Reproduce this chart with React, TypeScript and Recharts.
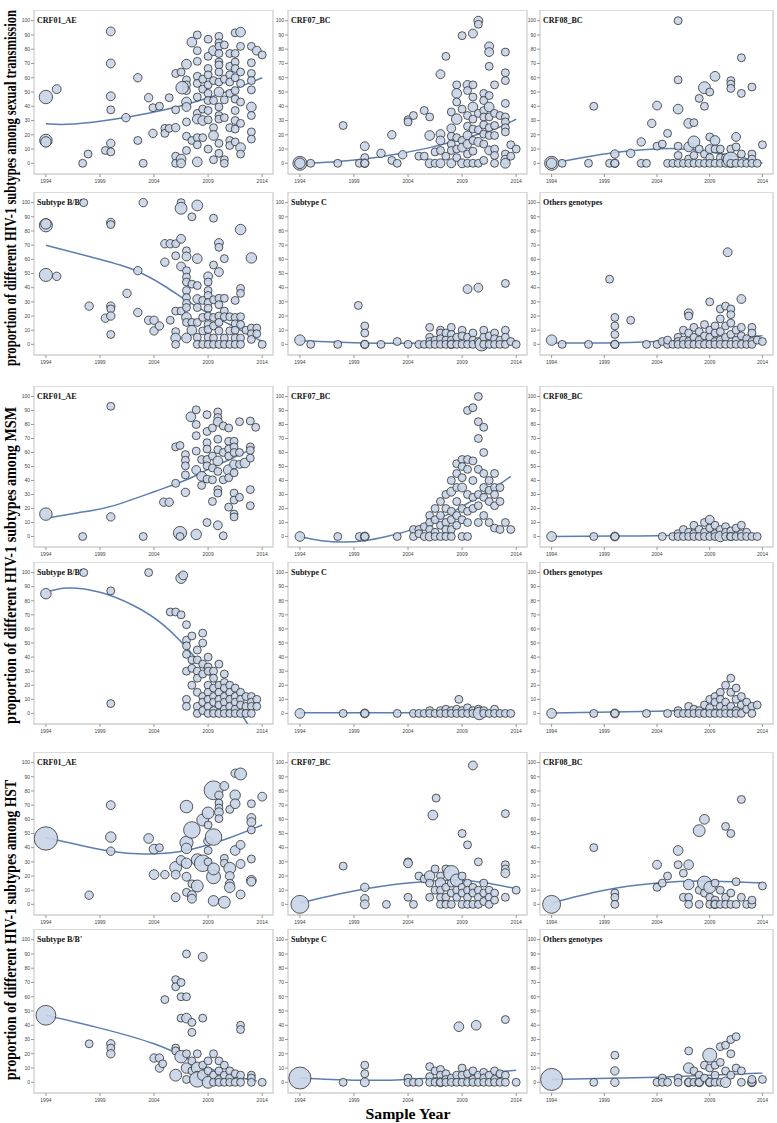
import React from 'react';
import { ComposedChart, Scatter, Line, XAxis, YAxis, ZAxis, ReferenceArea } from 'recharts';

const YEAR_TICKS = [1994, 1999, 2004, 2009, 2014];
const VALUE_TICKS = [0, 10, 20, 30, 40, 50, 60, 70, 80, 90, 100];
const X_DOMAIN: [number, number] = [1992.9, 2015];
const Y_DOMAIN: [number, number] = [-7.5, 107.5];

const GROUP_LABELS = [
  'proportion of different HIV-1 subtypes among sexual transmission',
  'proportion of different HIV-1 subtypes among MSM',
  'proportion of different HIV-1 subtypes among HST',
];
const X_TITLE = 'Sample Year';

type P = number[];

// ---- sexual transmission ----
const SEX_AE: P[] = [
  [1994,46.5,23],[1994,16,20],[1994,15,14],[1995,52,10],[1997.4,0,8],[1997.9,6.5,8],[1999.5,9,8],
  [2000,92.5,10],[2000,70,10],[2000,47,10],[2000,37.5,8],[2000,14,9],[2000,8,8],
  [2001.4,32,9],[2002.5,60,9],[2002.5,16,8],[2003,0,8],[2003.5,46,9],[2003.9,39,8],[2004.5,40,8],[2003.9,21,9],
  [2005,24.5,8],[2005,21,8],[2005.4,46,8],[2005.4,24.5,8],
  [2006,63,8],[2006,37.5,8],[2006,25,9],[2006,5,8],[2006,0,8],[2006.5,64,8],[2006.5,3,12],[2006.5,0,10],
  [2007,69.5,12],[2007,58.5,8],[2007,55,8],[2007,51,8],[2007,43,12],[2007,39.5,10],[2007,29,8],[2007,19,8],[2007,9,8],[2006.6,53,20],
  [2007.5,85,12],[2007.5,16,8],
  [2008,90,8],[2008,79,8],[2008,71.5,8],[2008,61,8],[2008,56,8],[2008,46.5,8],[2008,35,8],[2008,31,12],[2008,18,8],[2008,13,8],[2008,1,12],
  [2008.5,59,8],[2008.5,52,8],[2008.5,38,8],[2008.5,30,12],[2008.5,18,8],
  [2009,87,8],[2009,75,8],[2009,66.5,8],[2009,62,8],[2009,55,8],[2009,49,8],[2009,44,8],[2009,37,8],[2009,30.5,8],[2009,10,8],
  [2009.5,79,12],[2009.5,58,8],[2009.5,44,8],[2009.5,25,8],[2009.5,19.5,12],[2009.5,2.5,8],
  [2010,89,8],[2010,84.5,8],[2010,82,8],[2010,77,8],[2010,71,8],[2010,69,8],[2010,64,8],[2010,57,8],[2010,50,12],[2010,39.5,8],[2010,33.5,8],[2010,31,8],[2010,14,8],[2010,7,8],
  [2010.5,83,8],[2010.5,59,8],[2010.5,44.5,8],[2010.5,32,8],[2010.5,2.5,8],[2010.5,0,8],
  [2011,77,8],[2011,68,8],[2011,62,8],[2011,57,8],[2011,49,8],[2011,25,8],[2011,16,8],[2011,12.5,8],
  [2011.5,91.5,8],[2011.5,77,8],[2011.5,71,8],[2011.5,66.5,8],[2011.5,60,8],[2011.5,51,8],[2011.5,45,8],[2011.5,37,8],[2011.5,30,8],[2011.5,24,8],[2011.5,15,8],
  [2012,92,12],[2012,82,8],[2012,64,8],[2012,56,8],[2012,43,8],[2012,28,8],[2012,11,12],[2012,6.5,8],
  [2013,82,8],[2013,70.5,8],[2013,63,8],[2013,58,8],[2013,51.5,8],[2013,39.5,12],[2013,33.5,8],[2013,22,8],[2013,17,8],
  [2013.5,79,10],[2014,76,8],
];
const SEX_AE_FIT: P[] = [[1994,27.7],[1996,27.3],[1999,29.5],[2002,33],[2005,37.5],[2008,43.5],[2011,51],[2014,60]];

const SEX_07: P[] = [
  [1994,0,25],[1994,0,14],[1995,0,8],[1997.5,0,8],[1998,26.5,8],[1999.5,0,8],[2000,12,10],[2000,4,8],[2000,0,9],[2000,0,8],
  [2001.5,7,9],[2002.5,20,9],[2002.5,2,8],[2003,0,8],[2003.5,6,9],[2004,30.5,8],[2004,29,8],[2004.5,33.5,8],
  [2005,5,8],[2005.5,5,8],[2005.5,37,8],[2006,32.5,8],[2006,19.5,12],[2006,0,10],[2006.5,8,8],[2006.5,0,8],
  [2007,62.5,10],[2007,20.5,10],[2007,16,10],[2007,9,8],[2007,0,10],[2007.5,75,8],[2007.5,5,8],
  [2008,36,8],[2008,24.5,10],[2008,19,8],[2008,13.5,8],[2008,9,8],[2008,0,10],
  [2008.5,55,8],[2008.5,49,12],[2008.5,43,8],[2008.5,31,14],[2008.5,18,8],[2008.5,10,8],[2008.5,4,8],
  [2009,89.5,8],[2009,38,8],[2009,16,8],[2009,11,10],[2009,0,10],
  [2009.5,55,10],[2009.5,51,8],[2009.5,33.5,8],[2009.5,26,8],[2009.5,19.5,10],[2009.5,13.5,10],[2009.5,6.5,8],[2009.5,0,8],
  [2010,91,10],[2010,55,8],[2010,46.5,8],[2010,39.5,12],[2010,31,8],[2010,24,8],[2010,16,8],[2010,8.5,8],[2010,0,8],
  [2010.5,100,10],[2010.5,97.5,8],[2010.5,35,8],[2010.5,23.5,8],[2010.5,15,10],[2010.5,0,8],
  [2011,49,8],[2011,44,8],[2011,37,8],[2011,32.5,8],[2011,27,8],[2011,20.5,8],[2011,13.5,8],[2011,2,8],
  [2011.5,82,10],[2011.5,78,10],[2011.5,68,8],[2011.5,47.5,8],[2011.5,39.5,12],[2011.5,32.5,8],[2011.5,25,8],[2011.5,19.5,8],[2011.5,9,10],
  [2012,55,8],[2012,35,8],[2012,26.5,8],[2012,19.5,8],[2012,10,8],[2012,5.5,8],[2012,0,8],[2012.5,33.5,8],
  [2013,78,8],[2013,63.5,8],[2013,58,8],[2013,42,8],[2013,32.5,8],[2013,29,8],[2013,25,8],[2013,22,8],[2013,6.5,8],[2013,2.5,10],[2013,0,12],
  [2013.5,13,8],[2013.5,5,8],[2014,10,8],
];
const SEX_07_FIT: P[] = [[1994,0],[1997,1],[2000,3],[2003,6.5],[2006,11],[2009,17],[2012,24],[2014,31]];

const SEX_08: P[] = [
  [1994,0,25],[1994,0,14],[1995,0,8],[1997.5,0,8],[1998,40,8],[1999.5,0,8],[2000,6.5,9],[2000,0,9],[2000,0,8],
  [2001.5,7,9],[2002.5,15,9],[2002.5,0,8],[2003,0,8],[2003.5,28,9],[2004,40.5,10],[2004,12,8],[2004.5,13.5,8],
  [2005,21,8],[2005,0,8],[2005.5,0,8],[2006,100,8],[2006,58.5,8],[2006,38,12],[2006,12,8],[2006,5.5,8],[2006,0,8],[2006.5,0,8],
  [2007,28,12],[2007,11.5,12],[2007,3,8],[2007,0,8],[2007.5,28.5,8],[2007.5,15,18],[2007.5,5.5,8],[2007.5,0,8],
  [2008,45.5,8],[2008,10,8],[2008,0,8],[2008.5,53,18],[2008.5,40,8],[2008.5,6.5,8],[2008.5,0,8],
  [2009,50,8],[2009,18.5,8],[2009,10,10],[2009,4,8],[2009,0,8],[2009.5,61,12],[2009.5,16,12],[2009.5,10,8],[2009.5,0,8],
  [2010,10,8],[2010,4,8],[2010,0,8],[2010.5,0,8],[2010.5,4,8],
  [2011,58,8],[2011,55.5,8],[2011,52.5,8],[2011,10,8],[2011,2.5,30],[2011,0,8],
  [2011.5,18.5,10],[2011.5,11.5,8],[2011.5,0,8],[2012,74,8],[2012,49,8],[2012,6.5,8],[2012,0,8],[2012.5,0,8],
  [2013,53.5,8],[2013,6.5,8],[2013,3,8],[2013,0,8],[2013.5,0,8],[2014,13,8],
];
const SEX_08_FIT: P[] = [[1994,0],[1997,4],[2000,7.5],[2003,9.7],[2006,10.2],[2009,8],[2012,4],[2014,0]];

const SEX_B: P[] = [
  [1994,84,22],[1994,85,14],[1994,49,22],[1995,48,9],[1997.5,100,8],[1998,27,9],[1999.5,18.5,9],
  [2000,86,9],[2000,84.5,8],[2000,27,9],[2000,25,8],[2000,20,9],[2000,7,8],
  [2001.5,36,9],[2002.5,52,9],[2002.5,22.5,9],[2003,100,9],[2003.5,17,9],[2004,17,9],[2004,9.5,9],[2004.5,13,9],
  [2005,71,9],[2005,58,9],[2005.5,71,9],[2005.5,17,8],
  [2006,71,8],[2006,62.5,8],[2006,23.5,8],[2006,9,8],[2006,4.5,12],[2006,0,8],
  [2006.5,100,8],[2006.5,96,18],[2006.5,74.5,10],[2006.5,55,10],[2006.5,23.5,8],
  [2007,66,8],[2007,62,10],[2007,52,8],[2007,47.5,8],[2007,44,8],[2007,38,8],[2007,33,8],[2007,29,8],[2007,26,8],[2007,19,12],[2007,15.5,8],[2007,4.5,12],
  [2007.5,90,8],[2007.5,42.5,8],[2007.5,15.5,8],[2007.5,10,12],
  [2008,98,15],[2008,60.5,12],[2008,41.5,8],[2008,32,10],[2008,26,8],[2008,15.5,8],[2008,5,8],[2008,0,8],
  [2008.5,31,8],[2008.5,19,8],[2008.5,9.5,8],[2008.5,0,8],
  [2009,48,10],[2009,44,8],[2009,38,8],[2009,34.5,8],[2009,29.5,8],[2009,25.5,8],[2009,20,8],[2009,14,8],[2009,10.5,8],[2009,5,8],[2009,0,8],
  [2009.5,89,8],[2009.5,56,8],[2009.5,31.5,8],[2009.5,19,8],[2009.5,13,8],[2009.5,4.5,8],[2009.5,0,8],
  [2010,71.5,10],[2010,68.5,8],[2010,51,10],[2010,32.5,8],[2010,28,8],[2010,20,8],[2010,15.5,8],[2010,9.5,8],[2010,0,8],
  [2010.5,60.5,8],[2010.5,32.5,8],[2010.5,23.5,8],[2010.5,19.5,8],[2010.5,4.5,8],[2010.5,0,8],
  [2011,19.5,8],[2011,9.5,8],[2011,0,8],
  [2011.5,31,8],[2011.5,19,8],[2011.5,14.5,8],[2011.5,10,8],[2011.5,4.5,8],[2011.5,0,8],
  [2012,81,14],[2012,39.5,8],[2012,36,8],[2012,19.5,8],[2012,14,8],[2012,4.5,8],[2012,0,8],[2012.5,10,8],
  [2013,61,14],[2013,11.5,8],[2013,7.5,8],[2013,3.5,8],[2013.5,11.5,8],[2013.5,7.5,8],[2014,0,8],
];
const SEX_B_FIT: P[] = [[1994,70],[1998,62],[2002,53],[2005,41],[2007,31],[2009,22],[2011,14],[2014,2]];

const SEX_C: P[] = [
  [1994,3,14],[1995,0,8],[1997.5,0,8],[1999.4,27.5,8],[2000,13,8],[2000,8,8],[2000,0,9],[2000,0,8],
  [2001.5,0,8],[2003,2,8],[2004,0,8],[2005,0,8],[2005.5,0,8],
  [2006,12,8],[2006,5,8],[2006,2,8],[2006,0,8],[2006.5,3,8],[2006.5,0,8],
  [2007,10,8],[2007,8,8],[2007,4,8],[2007,0,8],[2007.5,8,8],[2007.5,3,8],[2007.5,0,8],
  [2008,12,8],[2008,7,8],[2008,3,8],[2008,0,9],[2008,0,8],[2008.5,5,8],[2008.5,0,8],
  [2009,10,8],[2009,6,8],[2009,0,8],[2009.5,39,10],[2009.5,5,8],[2009.5,0,8],
  [2010,8,8],[2010,3,8],[2010,0,8],[2010.5,40,10],[2010.5,2,8],[2010.8,0,22],
  [2011,10,8],[2011,5,8],[2011,0,8],[2011.5,6,8],[2011.5,0,8],
  [2012,8,8],[2012,4,8],[2012,0,8],[2012.5,3,8],[2012.5,0,8],
  [2013,43,8],[2013,10,8],[2013,5,8],[2013,0,8],[2013.5,2,8],[2014,0,8],
];
const SEX_C_FIT: P[] = [[1994,2.5],[1999,1.2],[2004,0.8],[2009,1.5],[2014,2.5]];

const SEX_O: P[] = [
  [1994,3,14],[1995,0,8],[1997.5,0,8],[1999.5,46,8],[2000,19,8],[2000,13,8],[2000,7,8],[2000,0,9],[2000,0,8],
  [2001.5,17,8],[2003,0,8],[2004,0,8],[2004.5,2,8],[2005,0,8],[2005,3,8],[2005.5,0,8],
  [2006,5,8],[2006,2,8],[2006,0,8],[2006.5,10,8],[2006.5,3,8],[2006.5,0,8],
  [2007,22,10],[2007,20,8],[2007,8,8],[2007,2,8],[2007,0,8],[2007.5,12,8],[2007.5,5,8],[2007.5,0,8],
  [2008,9,8],[2008,3,8],[2008,0,8],[2008.5,14,8],[2008.5,6,8],[2008.5,0,8],
  [2009,30,8],[2009,10,8],[2009,5,8],[2009,0,8],[2009.5,13,8],[2009.5,8,8],[2009.5,2,8],[2009.5,0,8],
  [2010,25,8],[2010,18,8],[2010,9,8],[2010,3,8],[2010,0,8],
  [2010.7,65,10],[2010.5,27,8],[2010.5,13,8],[2010.5,5,8],[2010.5,0,8],
  [2011,25,8],[2011,21,8],[2011,15,8],[2011,7,8],[2011,0,8],
  [2012,32,10],[2011.5,10,8],[2011.5,3,8],[2011.5,0,8],
  [2012,12,8],[2012,6,8],[2012,0,8],[2012.5,4,8],[2012.5,0,8],
  [2013,12,8],[2013,8,8],[2013,2,8],[2013,0,8],[2013.5,3,8],[2014,2,8],
];
const SEX_O_FIT: P[] = [[1994,1],[1999,1],[2004,2],[2009,3.8],[2014,6]];

// ---- MSM ----
const MSM_AE: P[] = [
  [1994,16,20],[1997.4,0,8],[2000,93,8],[2000,14,9],[2003,0,8],[2004.9,24.5,9],[2005.4,24.5,9],
  [2006,64,8],[2006,38,8],[2006.4,65,8],[2006.4,2.5,22],[2006.4,0,8],
  [2006.9,58.5,8],[2006.9,54.5,8],[2006.9,50.5,8],[2006.9,44,8],[2006.9,31.5,9],
  [2007.4,85.5,12],[2007.9,90.5,8],[2007.9,80,8],[2007.9,72,8],[2007.9,61,8],[2007.9,47.5,10],[2007.9,1.5,14],
  [2008.4,55,8],[2008.4,43,12],[2008.4,36.5,8],
  [2008.9,87,8],[2008.9,75,8],[2008.9,67,8],[2008.9,62.5,8],[2008.9,55,8],[2008.9,50.5,8],[2008.9,41,8],[2008.9,10,8],
  [2009.4,77.5,8],[2009.4,57.5,8],[2009.4,49,8],[2009.4,40.5,8],[2009.4,25,8],
  [2009.9,89,8],[2009.9,85,8],[2009.9,82,10],[2009.9,69.5,8],[2009.9,62,8],[2009.9,54,12],[2009.9,46.5,8],[2009.9,33.5,8],[2009.9,31,8],[2009.9,8,10],
  [2010.4,79,8],[2010.4,60,8],[2010.4,40.5,8],[2010.4,0.5,8],
  [2010.9,77.5,8],[2010.9,68,8],[2010.9,62.5,8],[2010.9,57.5,8],[2010.9,47.5,14],[2010.9,42,8],[2010.9,21,8],
  [2011.4,68,8],[2011.4,64,8],[2011.4,60,8],[2011.4,51.5,10],[2011.4,45.5,8],[2011.4,31,8],[2011.4,26,8],[2011.4,16,8],[2011.4,14,8],
  [2011.9,82,8],[2011.9,60,8],[2011.9,51.5,8],[2011.9,28,8],[2012.4,52.5,12],
  [2012.9,82.5,8],[2012.9,64,8],[2012.9,61.5,8],[2012.9,56,8],[2012.9,33.5,8],[2012.9,22,8],[2013.4,78,8],
];
const MSM_AE_FIT: P[] = [[1994,13],[1997,17],[2000,21.5],[2004,32],[2007,40.5],[2009,48],[2011,55],[2013.3,63.5]];

const MSM_07: P[] = [
  [1994,0,12],[1997.5,0,8],[1999.5,0,8],[2000,0,10],[2000,0,8],[2003,0,8],
  [2004.5,5,8],[2004.5,0,8],[2005,5,8],[2005,2,8],[2005.5,7,8],[2005.5,0,8],
  [2006,15,8],[2006,10,8],[2006,5,8],[2006,0,10],[2006.5,20,8],[2006.5,12,8],[2006.5,3,8],[2006.5,0,8],
  [2007,25,8],[2007,15,8],[2007,8,8],[2007,0,8],[2007.5,30,8],[2007.5,20,8],[2007.5,10,8],[2007.5,5,8],[2007.5,0,8],
  [2008,40,8],[2008,32,10],[2008,18,8],[2008,12,8],[2008,5,8],[2008,0,8],
  [2008.5,52,8],[2008.5,45,8],[2008.5,35,8],[2008.5,25,8],[2008.5,15,8],[2008.5,8,8],
  [2009,55,8],[2009,50,8],[2009,42,8],[2009,35,10],[2009,20,8],[2009,12,8],[2009,0,8],
  [2009.5,90,8],[2009.5,55,8],[2009.5,48,8],[2009.5,30,8],[2009.5,18,8],[2009.5,10,8],[2009.5,0,8],
  [2010,92,8],[2010,54,8],[2010,40,8],[2010,28,8],[2010,20,8],
  [2010.5,100,8],[2010.5,82,8],[2010.5,70,8],[2010.5,48,8],[2010.5,30,8],[2010.5,22,8],[2010.5,10,8],
  [2011,78,8],[2011,60,8],[2011,45,8],[2011,35,8],[2011,28,8],[2011,15,8],
  [2011.5,40,8],[2011.5,33,8],[2011.5,25,8],[2011.5,10,8],
  [2012,45,8],[2012,35,8],[2012,30,8],[2012,22,8],[2012,6,8],
  [2012.5,35,8],[2012.5,25,8],[2012.5,5,8],[2013,10,8],[2013.5,5,8],
];
const MSM_07_FIT: P[] = [[1994,0],[1996,-3],[1998,-4],[2000,-3],[2002,0],[2004,4],[2006,10],[2008,17],[2010,26],[2012,35],[2013.5,43]];

const MSM_08: P[] = [
  [1994,0,12],[1998,0,8],[2000,0,10],[2000,0,8],[2004.5,0,8],[2005.5,0,8],[2006,2,8],[2006,0,8],[2006.5,5,8],[2006.5,0,8],
  [2007,3,8],[2007,0,8],[2007.5,8,8],[2007.5,2,8],[2007.5,0,8],[2008,5,8],[2008,0,8],
  [2008.5,10,8],[2008.5,3,8],[2008.5,0,8],[2009,12,10],[2009,6,8],[2009,0,8],
  [2009.5,8,8],[2009.5,2,8],[2009.5,0,8],[2010,5,8],[2010,0,14],[2010.5,7,8],[2010.5,3,8],[2010.5,0,8],
  [2011,4,8],[2011,0,9],[2011,0,8],[2011.5,6,8],[2011.5,0,8],[2012,8,8],[2012,2,8],[2012,0,8],[2012.5,3,8],[2012.5,0,8],[2013,0,8],[2013.5,0,8],
];
const MSM_08_FIT: P[] = [[1994,0],[2000,0.3],[2004,0.6],[2009,1],[2013.5,0.5]];

const MSM_B: P[] = [
  [1994,85,14],[1997.5,100,8],[2000,87,8],[2000,7,8],[2003.5,100,8],[2005.5,72,8],[2006,72,8],
  [2006.5,96,14],[2006.7,98,10],[2006.5,70,8],
  [2007,63,8],[2007,52,8],[2007,48,8],[2007,42,8],[2007,30,8],[2007,10,8],[2007,5,8],
  [2007.5,55,8],[2007.5,38,8],[2007.5,32,8],[2007.5,20,8],
  [2008,45,8],[2008,38,8],[2008,30,8],[2008,25,8],[2008,15,8],[2008,5,8],[2008,0,8],
  [2008.5,57,8],[2008.5,50,8],[2008.5,35,8],[2008.5,28,8],[2008.5,12,8],[2008.5,8,8],[2008.5,2,8],
  [2009,40,8],[2009,33,8],[2009,30,8],[2009,20,8],[2009,15,8],[2009,10,8],[2009,5,8],[2009,0,8],
  [2009.5,30,8],[2009.5,25,8],[2009.5,18,8],[2009.5,12,8],[2009.5,8,8],[2009.5,2,8],[2009.5,0,8],
  [2010,35,8],[2010,20,8],[2010,15,8],[2010,10,8],[2010,6,8],[2010,0,8],
  [2010.5,28,8],[2010.5,22,8],[2010.5,18,8],[2010.5,12,8],[2010.5,8,8],[2010.5,3,8],[2010.5,0,8],
  [2011,20,8],[2011,15,8],[2011,10,8],[2011,5,8],[2011,0,8],
  [2011.5,18,8],[2011.5,12,8],[2011.5,8,8],[2011.5,3,8],[2011.5,0,8],
  [2012,15,8],[2012,10,8],[2012,6,8],[2012,0,8],[2012.5,12,8],[2012.5,5,8],[2012.5,0,8],
  [2013,12,8],[2013,8,8],[2013,5,8],[2013,0,8],[2013.5,10,8],[2013.5,5,8],
];
const MSM_B_FIT: P[] = [[1994,86],[1996,89],[1999,86],[2002,77],[2005,62],[2008,38],[2010,19],[2012,0],[2013,-12]];

const MSM_C: P[] = [
  [1994,0,12],[1998,0,8],[2000,0,10],[2000,0,8],[2003,0,8],[2004.5,0,8],[2005,0,8],[2005.5,0,8],
  [2006,2,8],[2006,0,8],[2006.5,0,8],[2007,2,8],[2007,0,8],[2007.5,3,8],[2007.5,0,8],[2008,2,8],[2008,0,8],
  [2008.7,10,8],[2008.5,3,8],[2008.5,0,8],[2009,2,8],[2009,0,8],[2009.5,4,8],[2009.5,0,8],[2010,2,8],[2010,0,8],
  [2010.5,3,8],[2010.6,0,20],[2011,2,8],[2011,0,8],[2011.5,0,8],[2012,3,8],[2012,0,8],[2012.5,0,8],[2013,0,8],[2013.5,0,8],
];
const MSM_C_FIT: P[] = [[1994,0.5],[2004,0.5],[2009,0.8],[2013.5,1]];

const MSM_O: P[] = [
  [1994,0,12],[1998,0,8],[2000,0,10],[2000,0,8],[2003,0,8],[2005,0,8],[2006,2,8],[2006,0,8],[2006.5,0,8],
  [2007,5,8],[2007,0,8],[2007.5,3,8],[2007.5,0,8],[2008,2,8],[2008,0,8],[2008.5,6,8],[2008.5,0,8],
  [2009,10,8],[2009,4,8],[2009,0,8],[2009.5,12,8],[2009.5,8,8],[2009.5,0,8],
  [2010,15,8],[2010,10,8],[2010,5,8],[2010,0,8],[2010.5,20,8],[2010.5,8,8],[2010.5,3,8],[2010.5,0,8],
  [2011,25,8],[2011,15,8],[2011,5,8],[2011,0,8],[2011.5,18,8],[2011.5,10,8],[2011.5,2,8],[2011.5,0,8],
  [2012,12,8],[2012,6,8],[2012,0,8],[2012.5,8,8],[2012.5,3,8],[2013,5,8],[2013,0,8],[2013.5,6,8],
];
const MSM_O_FIT: P[] = [[1994,0.3],[2004,1.5],[2009,3],[2013.5,5]];

// ---- HST ----
const HST_AE: P[] = [
  [1994,46.5,70],[1998,6.5,9],[2000,70,10],[2000,47.5,14],[2000,37.5,9],
  [2003.5,46.5,12],[2004,39,12],[2004.5,40,8],[2004,21,12],[2005,21,9],
  [2006,26,18],[2006,21,10],[2006,5,10],[2006.5,31,12],
  [2007,69,20],[2007,43.5,22],[2007,39.5,14],[2007,29,14],[2007,19.5,10],[2007,8.5,8],
  [2007.5,52.5,35],[2007.5,14.5,8],[2007.5,6.5,10],[2007.5,4,10],
  [2008,31.5,18],[2008,13,18],[2008.5,59.5,18],[2008.5,29,35],
  [2009,64.5,18],[2009,56,8],[2009,38,8],[2009,30,8],[2009,44.5,10],
  [2009.5,80.5,45],[2009.5,47.5,35],[2009.5,19.5,25],[2009.5,25,18],[2009.5,2.5,14],
  [2010,77,9],[2010,71.5,8],[2010,68,8],[2010,65,10],[2010,60.5,8],
  [2010.5,83.5,10],[2010.5,32.5,8],[2010.5,29,8],[2010.5,1.5,18],
  [2011,67,8],[2011,25.5,18],[2011,20,10],[2011,14.5,10],[2011,12,14],
  [2011.5,77,14],[2011.5,71,12],[2011.5,38,12],[2011.5,92.5,9],
  [2012,92,18],[2012,42,10],[2012,28.5,10],[2012,7,10],
  [2013,71,8],[2013,61,10],[2013,58,10],[2013,52.5,8],[2013,32,8],[2013,17,12],[2013,16,10],[2014,76,10],
];
const HST_AE_FIT: P[] = [[1994,47],[1997,42],[2000,37.5],[2003,35.5],[2005,36],[2007,38],[2009,42],[2011,47],[2014,56]];

const HST_07: P[] = [
  [1994,0,41],[1998,27,8],[2000,12,9],[2000,4,9],[2000,0,10],[2002,0,8],
  [2004,30,8],[2004,29,10],[2004,5,8],[2004.5,0,8],[2005,20,8],[2005.5,18,8],
  [2006,20,14],[2006.3,63,12],[2006,15,8],[2006,5,8],[2006.6,75,8],[2006.5,25,8],[2006.5,10,8],
  [2007,20,8],[2007,15,14],[2007,10,8],[2007,5,8],[2007,0,8],
  [2007.5,25,8],[2007.5,12,8],[2007.5,5,8],[2007.5,0,8],
  [2008,22,30],[2008,15,8],[2008,8,8],[2008,0,8],[2008.5,17,20],[2008.5,10,8],[2008.5,5,8],
  [2009,50,8],[2009,20,8],[2009,12,8],[2009,8,8],[2009,0,8],
  [2009.5,42,8],[2009.5,15,8],[2009.5,10,8],[2009.5,5,8],[2009.5,0,8],
  [2010,98,10],[2010,12,8],[2010,8,8],[2010,0,8],
  [2010.5,30,8],[2010.5,10,8],[2010.5,5,8],[2010.5,0,8],
  [2011,15,8],[2011,8,8],[2011,2,8],[2011.5,10,8],[2011.5,5,8],[2011.5,0,8],[2012,8,8],[2012,3,8],
  [2013,64,8],[2013,28,8],[2013,25,8],[2013,22,10],[2013,5,8],[2014,10,8],
];
const HST_07_FIT: P[] = [[1994,1],[1999,9.5],[2004,15],[2008,17],[2011,15.5],[2014,11]];

const HST_08: P[] = [
  [1994,0,41],[1998,40,8],[2000,8,8],[2000,5,8],[2000,0,8],[2004,28,10],[2004,12,8],[2004.5,15,8],[2005,20,8],
  [2006,38,12],[2006,28,8],[2006.5,22,8],[2006.5,5,8],
  [2007,28,12],[2007,14,14],[2007,5,8],[2007,0,8],
  [2008,52,18],[2008,10,8],[2008,0,8],[2008.5,60,12],[2008.5,15,25],[2008.5,8,8],
  [2009,12,18],[2009,5,8],[2009,0,8],[2009.5,15,8],[2009.5,3,8],[2009.5,0,9],[2009.5,0,8],
  [2010,10,8],[2010,0,8],[2010.5,55,8],[2010.5,5,8],[2010.5,0,8],
  [2011,50,8],[2011,8,8],[2011,0,8],[2011.5,16,8],[2011.5,0,8],[2012,74,8],[2012,5,8],[2012.5,0,8],
  [2013,0,8],[2013,3,8],[2014,13,8],
];
const HST_08_FIT: P[] = [[1994,1],[1999,10],[2004,15],[2008,16.5],[2011,16],[2014,15]];

const HST_B: P[] = [
  [1994,47,50],[1998,27,8],[2000,27,9],[2000,24,8],[2000,20,9],
  [2004,17,9],[2004.5,17,9],[2004.5,10,9],[2004.8,13,8],[2005,58,8],
  [2006,72,8],[2006,67,8],[2006,24,8],[2006,22,8],[2006,5,18],
  [2006.5,70,8],[2006.5,60,8],[2006.5,45,8],[2006.5,18,20],
  [2007,90,8],[2007,60,8],[2007,45,12],[2007,20,8],[2007,10,14],[2007,2,8],
  [2007.5,42,8],[2007.5,35,8],[2007.5,15,8],[2007.5,8,8],
  [2008,20,8],[2008,10,18],[2008,5,8],[2008,2,30],
  [2008.5,88,10],[2008.5,45,8],[2008.5,12,8],[2008.5,5,14],
  [2009,15,8],[2009,8,8],[2009,0,18],[2009.5,20,8],[2009.5,5,8],[2009.5,0,8],
  [2010,15,8],[2010,8,8],[2010,2,8],[2010,0,8],[2010.5,12,8],[2010.5,5,8],[2010.5,0,8],
  [2011,8,8],[2011,3,8],[2011,0,8],[2011.5,6,8],[2011.5,0,8],
  [2012,40,8],[2012,37,8],[2012,5,8],[2012,0,8],[2013,5,8],[2013,3,8],[2013,0,8],[2014,0,8],
];
const HST_B_FIT: P[] = [[1994,47],[1999,38],[2004,27],[2007,17],[2009,10],[2011,5],[2013.5,1]];

const HST_C: P[] = [
  [1994,3,62],[1998,0,8],[2000,12,8],[2000,6,8],[2000,0,10],[2004,3,8],[2004,0,8],[2004.5,0,8],[2005,0,8],
  [2006,11,8],[2006,4,8],[2006,0,8],[2006.5,8,8],[2006.5,0,8],
  [2007,9,8],[2007,5,8],[2007,0,10],[2007,0,8],[2007.5,6,8],[2007.5,2,8],[2007.5,0,8],
  [2008.7,39,12],[2008,3,8],[2008,0,8],[2008.5,5,8],[2008.5,0,8],
  [2009,10,8],[2009,5,8],[2009,0,8],[2009.5,6,8],[2009.5,0,8],
  [2010.3,40,12],[2010,8,8],[2010,2,8],[2010,0,8],[2010.5,5,8],[2010.5,0,8],
  [2011,7,8],[2011,3,8],[2011,0,8],[2011.5,5,8],[2011.5,0,8],
  [2012,8,8],[2012,2,8],[2012,0,8],[2012.5,6,8],[2012.5,0,8],
  [2013,44,8],[2013,5,8],[2013,0,8],[2014,0,8],
];
const HST_C_FIT: P[] = [[1994,3],[1999,1.5],[2004,2],[2009,5],[2014,8.5]];

const HST_O: P[] = [
  [1994,2,62],[1998,0,8],[2000,19,8],[2000,8,9],[2000,0,9],[2004,0,8],[2004.5,3,8],[2004.5,0,8],[2005,0,8],
  [2006,3,8],[2006,0,8],[2007,22,8],[2007,10,14],[2007,0,10],[2007,0,8],[2007.5,8,8],[2007.5,0,8],
  [2008,5,8],[2008,0,10],[2008,0,8],[2008.5,12,8],[2008.5,3,8],
  [2009,19,25],[2009,10,8],[2009,0,10],[2009,0,8],[2009.5,12,8],[2009.5,5,8],[2009.5,0,8],
  [2010,25,8],[2010,14,8],[2010,0,8],[2010.5,26,8],[2010.5,8,8],[2010.5,0,14],
  [2011,30,8],[2011,20,8],[2011,5,8],[2011.5,32,8],[2011.5,10,8],[2012,8,8],[2012,0,8],
  [2013,0,10],[2013,0,8],[2013,2,8],[2014,2,8],
];
const HST_O_FIT: P[] = [[1994,2],[2004,3.5],[2009,5],[2014,6.5]];

const TITLES = ['CRF01_AE', 'CRF07_BC', 'CRF08_BC', "Subtype B/B'", 'Subtype C', 'Others genotypes'];

// plot-area frames (page pixels)
const COLS: [number, number][] = [[34, 273], [288, 527], [540, 773]];
const ROWS: [number, number][] = [[10, 174], [192, 355], [386, 547], [562, 724], [752, 915], [929, 1093]];

const PANELS: { pts: P[]; fit: P[]; t: number }[] = [
  { pts: SEX_AE, fit: SEX_AE_FIT, t: 0 }, { pts: SEX_07, fit: SEX_07_FIT, t: 1 }, { pts: SEX_08, fit: SEX_08_FIT, t: 2 },
  { pts: SEX_B, fit: SEX_B_FIT, t: 3 }, { pts: SEX_C, fit: SEX_C_FIT, t: 4 }, { pts: SEX_O, fit: SEX_O_FIT, t: 5 },
  { pts: MSM_AE, fit: MSM_AE_FIT, t: 0 }, { pts: MSM_07, fit: MSM_07_FIT, t: 1 }, { pts: MSM_08, fit: MSM_08_FIT, t: 2 },
  { pts: MSM_B, fit: MSM_B_FIT, t: 3 }, { pts: MSM_C, fit: MSM_C_FIT, t: 4 }, { pts: MSM_O, fit: MSM_O_FIT, t: 5 },
  { pts: HST_AE, fit: HST_AE_FIT, t: 0 }, { pts: HST_07, fit: HST_07_FIT, t: 1 }, { pts: HST_08, fit: HST_08_FIT, t: 2 },
  { pts: HST_B, fit: HST_B_FIT, t: 3 }, { pts: HST_C, fit: HST_C_FIT, t: 4 }, { pts: HST_O, fit: HST_O_FIT, t: 5 },
];

const SANS = 'Liberation Sans, Arial, sans-serif';
const SERIF = 'Liberation Serif, Times New Roman, serif';
const YW = 16;
const XH = 14;

// vertical group labels: [centre y, length, font size]; glyph height stretched to match 17px
const LABEL_LAYOUT = [[188, 356, 11.6], [565.5, 317, 14.2], [930, 300, 13.4]];

function Panel({ pts, fit, title, frame }: { pts: P[]; fit: P[]; title: string; frame: number[] }) {
  const [l, t, r, b] = frame;
  const w = r - l + YW + 1;
  const h = b - t + XH;
  const data = pts.map((p) => ({ x: p[0], y: p[1], z: p[2] }));
  const fitData = fit.map((p) => ({ x: p[0], y: p[1] }));
  const tickStyle = { fontSize: 5, fill: '#444', fontFamily: SANS };
  return (
    <div style={{ position: 'absolute', left: l - YW, top: t, width: w, height: h }}>
      <ComposedChart width={w} height={h} margin={{ top: 0, right: 1, bottom: 0, left: 0 }}>
        <XAxis type="number" dataKey="x" domain={X_DOMAIN} ticks={YEAR_TICKS} allowDataOverflow interval={0}
          height={XH} tickSize={3} tickMargin={2} axisLine={false} tickLine={{ stroke: '#999' }} tick={tickStyle} />
        <YAxis type="number" dataKey="y" domain={Y_DOMAIN} ticks={VALUE_TICKS} allowDataOverflow interval={0}
          width={YW} tickSize={3} tickMargin={1} axisLine={false} tickLine={{ stroke: '#999' }} tick={tickStyle} />
        <ZAxis type="number" dataKey="z" domain={[0, 100]} range={[0, 616]} />
        <ReferenceArea x1={X_DOMAIN[0]} x2={X_DOMAIN[1]} y1={Y_DOMAIN[0]} y2={Y_DOMAIN[1]}
          fill="none" stroke="#cfcfcf" strokeWidth={1.3} ifOverflow="visible" />
        <Scatter data={data} fill="#c8d5e8" fillOpacity={0.9} stroke="#2e2e2e" strokeWidth={0.8} isAnimationActive={false} />
        <Line data={fitData} dataKey="y" type="natural" stroke="#5b7eb0" strokeWidth={1.5} dot={false}
          activeDot={false} isAnimationActive={false} />
      </ComposedChart>
      <svg style={{ position: 'absolute', left: 0, top: 0, pointerEvents: 'none' }} width={w} height={h}>
        <text x={YW + 3} y={13} fontFamily={SERIF} fontWeight="bold" fontSize={8} fill="#111">{title}</text>
      </svg>
    </div>
  );
}

export default function App() {
  return (
    <div style={{ position: 'absolute', left: 0, top: 0, width: 777, height: 1123, background: '#fff', overflow: 'hidden' }}>
      {PANELS.map((p, i) => {
        const c = COLS[i % 3];
        const rw = ROWS[Math.floor(i / 3)];
        return <Panel key={i} pts={p.pts} fit={p.fit} title={TITLES[p.t]} frame={[c[0], rw[0], c[1], rw[1]]} />;
      })}
      <svg style={{ position: 'absolute', left: 0, top: 0, pointerEvents: 'none' }} width={777} height={1123}>
        {GROUP_LABELS.map((s, i) => {
          const [cy, len, fs] = LABEL_LAYOUT[i];
          return (
            <text key={i} transform={`translate(15.5,${cy}) rotate(-90) scale(1,${(17 / fs).toFixed(3)})`}
              textAnchor="middle" fontFamily={SERIF} fontWeight="bold" fontSize={fs}
              textLength={len} lengthAdjust="spacingAndGlyphs" fill="#000">{s}</text>
          );
        })}
        <text x={408} y={1119} textAnchor="middle" fontFamily={SERIF} fontWeight="bold" fontSize={15}
          textLength={85} lengthAdjust="spacingAndGlyphs" fill="#000">{X_TITLE}</text>
      </svg>
    </div>
  );
}
